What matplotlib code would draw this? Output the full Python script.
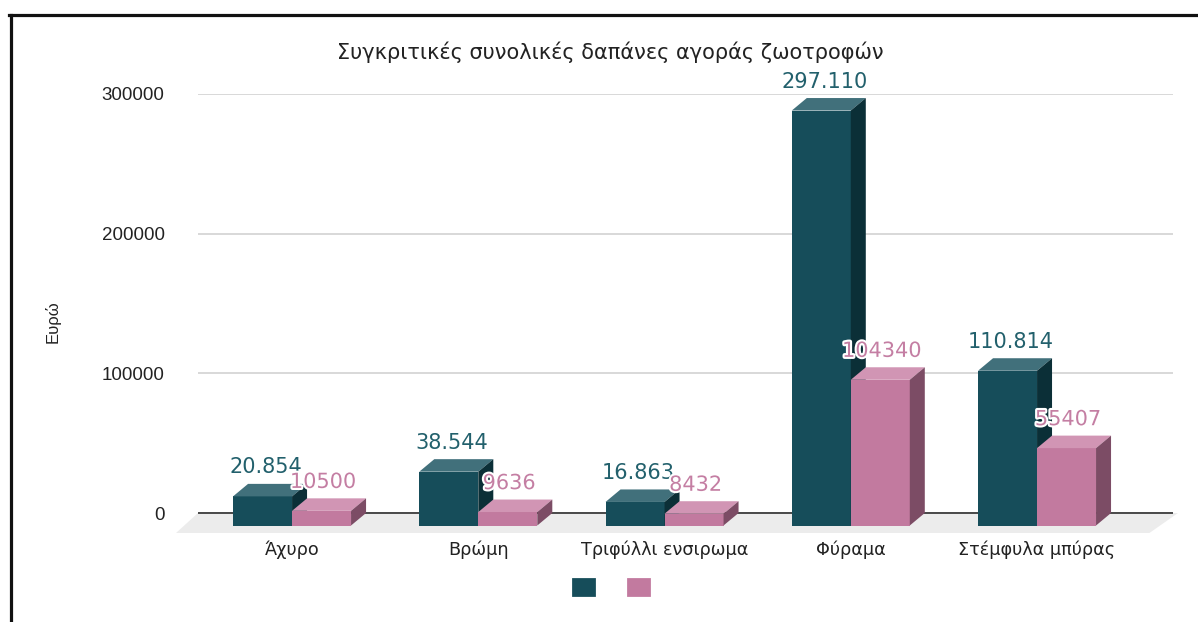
import matplotlib.pyplot as plt
from matplotlib.patches import Polygon, Patch
from matplotlib.lines import Line2D
import matplotlib.patheffects as pe

categories = ['Άχυρο', 'Βρώμη', 'Τριφύλλι ενσιρωμα', 'Φύραμα', 'Στέμφυλα μπύρας']
cost_a = [20854, 38544, 16863, 297110, 110814]
cost_b = [10500, 9636, 8432, 104340, 55407]
yticks = [0, 100000, 200000, 300000]

title = 'Συγκριτικές συνολικές δαπάνες αγοράς ζωοτροφών'
ylabel = 'Ευρώ'

# front / top / side shades
teal = ('#164d5a', '#41707b', '#0b2f37')
pink = ('#c27a9f', '#d195b4', '#7c4c65')
teal_text = '#22606c'
pink_text = '#c47ea3'

plt.rcParams['font.family'] = ['Liberation Sans', 'DejaVu Sans']

W, H = 1198, 622
fig = plt.figure(figsize=(W / 100, H / 100), dpi=100)

# plot area in pixels
L, R, T, B = 198, 1173, 94, 535
zero_px = 513
ax = fig.add_axes([L / W, 1 - B / H, (R - L) / W, (B - T) / H])

xlim = (-0.505, 4.73)
ymax = yticks[-1]
ppu = (zero_px - T) / ymax          # pixels per euro
xppu = (R - L) / (xlim[1] - xlim[0])
ax.set_xlim(*xlim)
ax.set_ylim(-(B - zero_px) / ppu, ymax)

bw = 59 / xppu      # front face width
dx = 15 / xppu      # depth offset
dy = 12.5 / ppu


def box3d(xs, vals, cols):
    bars = ax.bar(xs, vals, width=bw, bottom=-dy, color=cols[0], zorder=3)
    for b, v in zip(bars, vals):
        x0 = b.get_x()
        x1 = x0 + bw
        top = v - dy
        ax.add_patch(Polygon([(x0, top), (x1, top), (x1 + dx, v), (x0 + dx, v)],
                             closed=True, fc=cols[1], ec='none', zorder=3))
        ax.add_patch(Polygon([(x1, -dy), (x1 + dx, 0), (x1 + dx, v), (x1, top)],
                             closed=True, fc=cols[2], ec='none', zorder=3))
    return bars


pos = list(range(len(categories)))
xa = [p - bw / 2 for p in pos]
xb = [p + bw / 2 for p in pos]
box3d(xa, cost_a, teal)
box3d(xb, cost_b, pink)

# value labels
for x, v in zip(xa, cost_a):
    ax.annotate(f'{v:,}'.replace(',', '.'), (x + dx * 0.2, v), xytext=(0, 7.5),
                textcoords='offset points', ha='center', va='baseline',
                fontsize=15, color=teal_text, family='DejaVu Sans', zorder=5)
for x, v in zip(xb, cost_b):
    ax.annotate(str(v), (x + dx * 0.1, v), xytext=(0, 7.5),
                textcoords='offset points', ha='center', va='baseline',
                fontsize=15, color=pink_text, family='DejaVu Sans', zorder=5,
                path_effects=[pe.withStroke(linewidth=3, foreground='white')])

# floor
fd = 20 / ppu
fx = 22 / xppu
floor = Polygon([(xlim[0], 0), (xlim[1] + 5 / xppu, 0),
                 (xlim[1] + 5 / xppu - fx * 1.3, -fd), (xlim[0] - fx, -fd)],
                closed=True, fc='#ececec', ec='none', zorder=1, clip_on=False)
ax.add_patch(floor)
ax.axhline(0, color='#3c3c3c', lw=1.3, zorder=2)

ax.set_yticks(yticks)
ax.set_yticklabels([str(t) for t in yticks])
ax.set_xticks(pos)
ax.set_xticklabels(categories, family='DejaVu Sans', fontsize=12.7)
ax.tick_params(axis='y', length=0, pad=24, labelsize=13.5, labelcolor='#222222')
ax.tick_params(axis='x', length=0, pad=4, labelcolor='#222222')
ax.yaxis.grid(True, color='#d2d2d2', lw=1.2)
ax.set_axisbelow(True)
for s in ax.spines.values():
    s.set_visible(False)

fig.text(610 / W, 1 - 52 / H, title, ha='center', va='center', fontsize=15,
         color='#222222', family='DejaVu Sans')
fig.text(53 / W, 1 - 322 / H, ylabel, ha='center', va='center', rotation=90,
         fontsize=12, color='#222222')

handles = [Patch(facecolor=teal[0], edgecolor=teal[0], lw=2, joinstyle='round'),
           Patch(facecolor=pink[0], edgecolor=pink[0], lw=2, joinstyle='round')]
fig.legend(handles, ['', ''], loc='center', bbox_to_anchor=(611 / W, 1 - 587 / H),
           ncol=2, frameon=False, fontsize=12, handlelength=1.3, handleheight=1.1,
           handletextpad=0, columnspacing=2.0)

# screenshot frame (top and left edges)
fig.add_artist(Line2D([9 / W, 1], [1 - 15 / H, 1 - 15 / H], color='#111111', lw=2.3))
fig.add_artist(Line2D([10.5 / W, 10.5 / W], [0, 1 - 15 / H], color='#111111', lw=2.3))

fig.savefig('out.png', dpi=100)
